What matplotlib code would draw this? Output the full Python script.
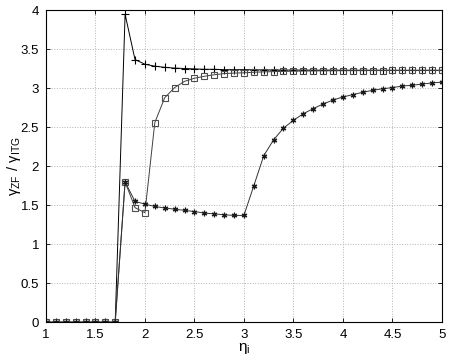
import matplotlib.pyplot as plt
import numpy as np

eta = np.round(np.arange(1.0, 5.01, 0.1), 1)

gamma_plus = [0, 0, 0, 0, 0, 0, 0, 0, 3.95, 3.37, 3.31, 3.285, 3.27, 3.26, 3.255,
              3.25, 3.245, 3.245, 3.24, 3.24, 3.24, 3.238, 3.237, 3.236, 3.235,
              3.235, 3.235, 3.234, 3.234, 3.234, 3.233, 3.233, 3.233, 3.233, 3.233,
              3.232, 3.232, 3.232, 3.232, 3.232, 3.232]

gamma_square = [0, 0, 0, 0, 0, 0, 0, 0, 1.80, 1.47, 1.405, 2.56, 2.88, 3.01, 3.09,
                3.13, 3.155, 3.175, 3.19, 3.196, 3.20, 3.207, 3.212, 3.215, 3.218,
                3.22, 3.222, 3.224, 3.225, 3.226, 3.227, 3.228, 3.228, 3.229, 3.229,
                3.23, 3.23, 3.23, 3.23, 3.23, 3.23]

gamma_star = [0, 0, 0, 0, 0, 0, 0, 0, 1.80, 1.55, 1.515, 1.485, 1.465, 1.45, 1.435,
              1.42, 1.40, 1.39, 1.378, 1.37, 1.37, 1.75, 2.135, 2.34, 2.49,
              2.59, 2.675, 2.74, 2.80, 2.85, 2.89, 2.92, 2.95, 2.975, 2.995,
              3.01, 3.03, 3.04, 3.055, 3.07, 3.08]

plt.rcParams['font.family'] = ['Liberation Sans', 'DejaVu Sans']
plt.rcParams['font.size'] = 9.5

fig = plt.figure(figsize=(4.5, 3.6), dpi=100)
ax = fig.add_axes([0.102, 0.105, 0.880, 0.866])

ax.plot(eta, gamma_plus, color='k', lw=0.7, marker='+', ms=6, mew=0.8)
ax.plot(eta, gamma_square, color='0.25', lw=0.7, marker='s', ms=4,
        mfc='none', mec='0.3', mew=0.8)
ax.plot(eta, gamma_star, color='0.2', lw=0.7, marker=(6, 2, 0), ms=4,
        mec='0.1', mew=0.9)

ax.set_xlim(1, 5)
ax.set_ylim(0, 4)
ax.set_xticks(np.arange(1, 5.01, 0.5))
ax.set_xticklabels(['1', '1.5', '2', '2.5', '3', '3.5', '4', '4.5', '5'])
ax.set_yticks(np.arange(0, 4.01, 0.5))
ax.set_yticklabels(['0', '0.5', '1', '1.5', '2', '2.5', '3', '3.5', '4'])
ax.tick_params(direction='in', top=True, right=True, length=3, width=0.6, pad=5)
ax.grid(True, linestyle=':', color='0.7', lw=0.7)
for s in ax.spines.values():
    s.set_linewidth(0.8)

ax.set_xlabel(r'$\mathregular{\eta_i}$', fontsize=11, labelpad=0)
ax.set_ylabel(r'$\mathregular{\gamma_{ZF}\ /\ \gamma_{ITG}}$', fontsize=10.5)
ax.yaxis.set_label_coords(-0.058, 0.5)

fig.savefig('out.png', dpi=100)
